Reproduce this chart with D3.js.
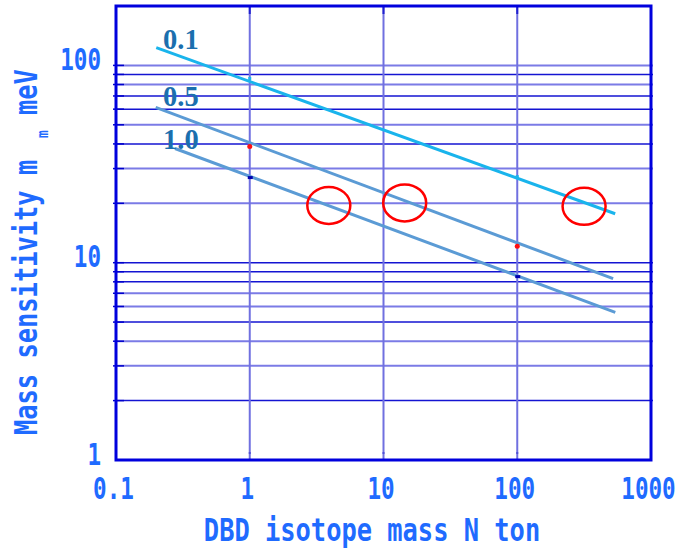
<!DOCTYPE html>
<html><head><meta charset="utf-8">
<script src="https://cdn.jsdelivr.net/npm/d3@7"></script>
<style>body{margin:0;background:#fff}svg{display:block}</style>
</head><body>
<svg id="c" width="679" height="548"></svg>
<script>
// ---- data ----
const xTicks = [0.1, 1, 10, 100, 1000];
const xTickLabels = ["0.1", "1", "10", "100", "1000"];
const yTicks = [1, 10, 100];
const yTickLabels = ["1", "10", "100"];
const yGrid = [2,3,4,5,6,7,8,9,10,20,30,40,50,60,70,80,90,100];
const xGrid = [1, 10, 100];
const seriesNames = ["0.1", "0.5", "1.0"];
const line01 = [[0.2, 123], [540, 17.7]];
const line05 = [[0.198, 61.2], [521, 8.3]];
const line10 = [[0.276, 37.9], [541, 5.6]];
const points01 = [[1, 85.9], [100, 27.3]];
const points05 = [[1, 38.8], [100, 12.1]];
const points10 = [[1, 27.0], [100, 8.5]];
const labelPos = [[0.225, 120.6], [0.225, 62.6], [0.225, 37.5]];
const circles = [[3.9, 19.5], [14.4, 20.1], [316, 19.3]];
const xTitle = "DBD isotope mass N ton";

// ---- chart ----
const svg = d3.select("#c");
const L = 116, R = 651, T = 6, B = 460;
const x = d3.scaleLog().domain([0.1, 1000]).range([L, R]);
const y = d3.scaleLog().domain([1, 200]).range([B, T]);
const textBlue = "#1f6bff";
const mono = "'DejaVu Sans Mono', monospace";
const SX = 0.794;
const SXT = 0.73;

const lightSet = new Set([100, 80, 50, 30, 20, 7, 6, 4, 3]);
// horizontal grid
svg.append("g").selectAll("line").data(yGrid).join("line")
  .attr("x1", L).attr("x2", R + 2)
  .attr("y1", d => y(d)).attr("y2", d => y(d))
  .attr("stroke", d => lightSet.has(d) ? "#7b7be6" : "#1414d2")
  .attr("stroke-width", d => lightSet.has(d) ? 2 : 1.5);
// inner left ticks
svg.append("g").selectAll("line").data(yGrid).join("line")
  .attr("x1", L - 3).attr("x2", L + 8)
  .attr("y1", d => y(d)).attr("y2", d => y(d))
  .attr("stroke", "#0000cc").attr("stroke-width", 1.5);
// vertical grid
svg.append("g").selectAll("line").data(xGrid).join("line")
  .attr("x1", d => x(d)).attr("x2", d => x(d))
  .attr("y1", T).attr("y2", B)
  .attr("stroke", "#7070e0").attr("stroke-width", 2);
// bottom inner tick marks
svg.append("g").selectAll("line").data(xTicks).join("line")
  .attr("x1", d => x(d)).attr("x2", d => x(d))
  .attr("y1", B - 8).attr("y2", B - 6)
  .attr("stroke", "#5050d8").attr("stroke-width", 2);
svg.append("g").selectAll("line").data(xGrid).join("line")
  .attr("x1", d => x(d)).attr("x2", d => x(d))
  .attr("y1", T).attr("y2", T + 8)
  .attr("stroke", "#2020d0").attr("stroke-width", 2);

// frame
svg.append("rect").attr("x", L).attr("y", T).attr("width", R - L).attr("height", B - T)
  .attr("fill", "none").attr("stroke", "#0000dd").attr("stroke-width", 3);

// axes (labels only)
const xAxis = d3.axisBottom(x).tickValues(xTicks).tickSize(0)
  .tickFormat((d, i) => xTickLabels[i]);
const gx = svg.append("g").attr("transform", `translate(0,${B})`).call(xAxis);
gx.select(".domain").remove();
gx.selectAll("text").attr("x", -3 / SXT).attr("y", 39).attr("dy", 0)
  .attr("transform", `scale(${SXT},1)`)
  .attr("fill", textBlue).attr("font-family", mono).attr("font-weight", "bold").attr("font-size", 31);

const yAxis = d3.axisLeft(y).tickValues(yTicks).tickSize(0)
  .tickFormat((d, i) => yTickLabels[i]);
const gy = svg.append("g").attr("transform", `translate(${L},0)`).call(yAxis);
gy.select(".domain").remove();
gy.selectAll("text").attr("x", -15 / SXT).attr("y", 4).attr("dy", 0)
  .attr("transform", `scale(${SXT},1)`)
  .attr("fill", textBlue).attr("font-family", mono).attr("font-weight", "bold").attr("font-size", 31);

// lines
const lineGen = d3.line().x(d => x(d[0])).y(d => y(d[1]));
const lineColors = ["#19b4ec", "#5b9bd5", "#5b9bd5"];
[line01, line05, line10].forEach((ln, i) => {
  svg.append("path").datum(ln).attr("d", lineGen)
    .attr("fill", "none").attr("stroke", lineColors[i]).attr("stroke-width", 3);
});

// points
svg.append("g").selectAll("rect").data(points01).join("rect")
  .attr("x", d => x(d[0]) - 1.5).attr("y", d => y(d[1]) - 1.5)
  .attr("width", 3).attr("height", 3).attr("fill", "#19b4ec");
svg.append("g").selectAll("circle").data(points05).join("circle")
  .attr("cx", d => x(d[0])).attr("cy", d => y(d[1])).attr("r", 2.5).attr("fill", "#ff1010");
svg.append("g").selectAll("rect").data(points10).join("rect")
  .attr("x", d => x(d[0]) - 2).attr("y", d => y(d[1]) - 1.5)
  .attr("width", 5).attr("height", 3).attr("fill", "#0000b0");

// series labels
svg.append("g").selectAll("text").data(seriesNames).join("text")
  .attr("x", (d, i) => x(labelPos[i][0])).attr("y", (d, i) => y(labelPos[i][1]))
  .attr("font-family", "'Liberation Serif', 'Times New Roman', serif")
  .attr("font-weight", "bold").attr("font-size", 28.5).attr("fill", "#1b6fae")
  .text(d => d);

// red ellipses
svg.append("g").selectAll("ellipse").data(circles).join("ellipse")
  .attr("cx", d => x(d[0])).attr("cy", d => y(d[1]))
  .attr("rx", 21.5).attr("ry", 18.5)
  .attr("fill", "none").attr("stroke", "#ff0000").attr("stroke-width", 2.5);

// x title
svg.append("text").attr("transform", `translate(372,541) scale(${SX},1)`)
  .attr("text-anchor", "middle").attr("font-family", mono).attr("font-weight", "bold")
  .attr("font-size", 32).attr("fill", textBlue).text(xTitle);

// y title
const gt = svg.append("g").attr("transform", `translate(37,435) rotate(-90) scale(${SX},1)`)
  .attr("font-family", mono).attr("font-weight", "bold").attr("fill", textBlue);
gt.append("text").attr("x", 0).attr("y", 0).attr("font-size", 32).text("Mass sensitivity  m");
gt.append("text").attr("x", 297 / SX).attr("y", 11).attr("font-size", 16).text("m");
gt.append("text").attr("x", 320 / SX).attr("y", 0).attr("font-size", 32).text("meV");
</script>
</body></html>
